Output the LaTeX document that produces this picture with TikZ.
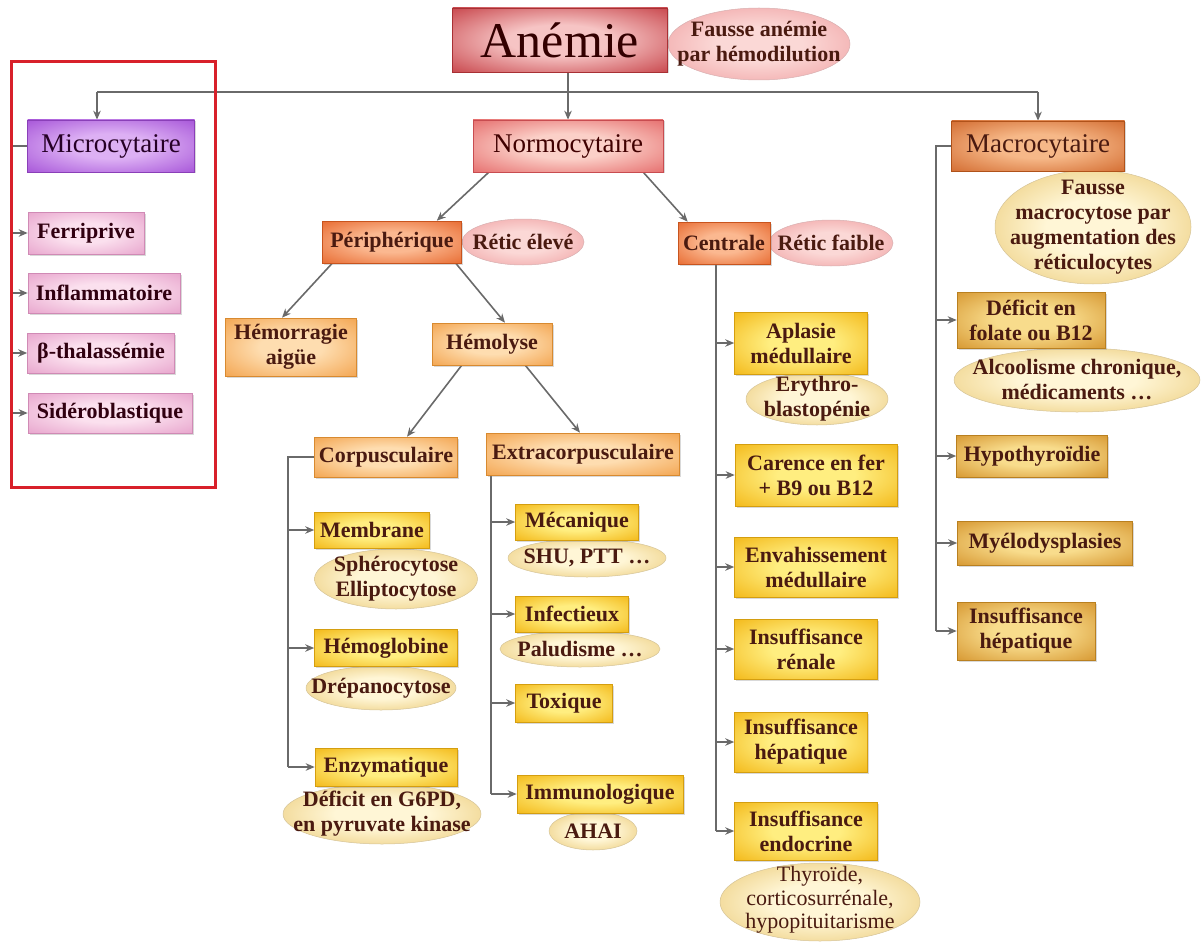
\documentclass[tikz,border=0pt]{standalone}
\usepackage{fontspec}
\setmainfont{Liberation Serif}
\usetikzlibrary{arrows.meta,shapes.geometric,shadows,calc}
\pgfdeclarelayer{bg}\pgfdeclarelayer{ov}
\pgfsetlayers{bg,ov,main}
\definecolor{linec}{HTML}{6A6A6A}
\definecolor{txtc}{HTML}{4A1A10}
\definecolor{redO}{HTML}{C43C42}\definecolor{redI}{HTML}{F6C4C4}\definecolor{redD}{HTML}{A83034}
\definecolor{vioO}{HTML}{A24ED6}\definecolor{vioI}{HTML}{DDB0F4}\definecolor{vioD}{HTML}{8A3FB8}
\definecolor{pnkO}{HTML}{E6A0CA}\definecolor{pnkI}{HTML}{FBE0EE}\definecolor{pnkD}{HTML}{D08AB5}
\definecolor{nrmO}{HTML}{E46666}\definecolor{nrmI}{HTML}{FBD0C8}\definecolor{nrmD}{HTML}{C84C50}
\definecolor{orgO}{HTML}{E6652A}\definecolor{orgI}{HTML}{FBB890}\definecolor{orgD}{HTML}{C8541E}
\definecolor{mcrO}{HTML}{D0662A}\definecolor{mcrI}{HTML}{F6B888}\definecolor{mcrD}{HTML}{B0521A}
\definecolor{lorO}{HTML}{F2A048}\definecolor{lorI}{HTML}{FEDDB0}\definecolor{lorD}{HTML}{D88A30}
\definecolor{yelO}{HTML}{F2B410}\definecolor{yelI}{HTML}{FFEE80}\definecolor{yelD}{HTML}{D49E10}
\definecolor{gldO}{HTML}{D4922A}\definecolor{gldI}{HTML}{F8DC8C}\definecolor{gldD}{HTML}{B98020}
\definecolor{povO}{HTML}{EE9A9C}\definecolor{povI}{HTML}{FBD8D6}
\definecolor{covO}{HTML}{E8C46A}\definecolor{covI}{HTML}{FFF6D6}
\definecolor{frame}{HTML}{D8202A}
\colorlet{shin}{white}\colorlet{shout}{black}
\pgfdeclareradialshading[shin,shout]{glow}{\pgfpoint{0bp}{0bp}}{color(0bp)=(shin); color(12bp)=(shin); color(38bp)=(shout); color(50bp)=(shout)}
\newcommand\fntB{\fontsize{22}{25}\selectfont\bfseries}
\newcommand\fntR{\fontsize{27}{30}\selectfont}
\newcommand\fntT{\fontsize{22}{23.5}\selectfont}
\tikzset{
  con/.style={draw=linec, line width=1.6pt},
  arr/.style={con, -{Stealth[length=9pt,width=7.5pt]}},
  glowfill/.style 2 args={/utils/exec={\colorlet{shin}{#1}\colorlet{shout}{#2}}, shade, shading=glow},
  box/.style={rectangle, inner sep=2pt, align=center, font=\fntB, text=txtc, line width=0.6pt,
    drop shadow={shadow xshift=1.5pt, shadow yshift=-1.5pt, opacity=0.3}},
  rbox/.style={box, draw=redD, glowfill={redI}{redO}, text=black!80!red},
  vbox/.style={box, draw=vioD, glowfill={vioI}{vioO}, text=black!70!violet},
  pbox/.style={box, draw=pnkD, glowfill={pnkI}{pnkO}, text=black!75!purple},
  nbox/.style={box, draw=nrmD, glowfill={nrmI}{nrmO}, text=black!75!red},
  obox/.style={box, draw=orgD, glowfill={orgI}{orgO}},
  mbox/.style={box, draw=mcrD, glowfill={mcrI}{mcrO}},
  lbox/.style={box, draw=lorD, glowfill={lorI}{lorO}},
  ybox/.style={box, draw=yelD, glowfill={yelI}{yelO}},
  gbox/.style={box, draw=gldD, glowfill={gldI}{gldO}},
  poval/.style={ellipse, inner sep=0pt, draw=povO!80!black!60, line width=0.5pt, glowfill={povI}{povO}},
  coval/.style={ellipse, inner sep=0pt, draw=covO!80!black!60, line width=0.5pt, glowfill={covI}{covO}},
  otext/.style={inner sep=0pt, align=center, font=\fntB, text=txtc},
}
\newcommand\ovalnode[7][]{%
  \begin{pgfonlayer}{ov}
  \node[#6, minimum width=#4pt, minimum height=#5pt] (#2) at (#3) {};
  \node[otext,#1] (#2t) at (#2) {#7};
  \end{pgfonlayer}}
\begin{document}
\begin{tikzpicture}[x=1pt,y=-1pt]
\path[use as bounding box] (0,0) rectangle (1201,944);
% top
\node[rbox, minimum width=215pt, minimum height=64pt, font=\fontsize{50}{55}\selectfont] (anemie) at (560,40) {Anémie};
\ovalnode{fausse}{759,44}{182}{72}{poval}{Fausse anémie\\par hémodilution}
% microcytaire
\node[vbox, minimum width=167pt, minimum height=52pt, font=\fntR] (micro) at (111,146) {Microcytaire};
\node[pbox, minimum width=116pt, minimum height=42pt] (ferri) at (86,233) {Ferriprive};
\node[pbox, minimum width=152pt, minimum height=40pt] (infl) at (104,293) {Inflammatoire};
\node[pbox, minimum width=147pt, minimum height=40pt] (beta) at (101,353) {β-thalassémie};
\node[pbox, minimum width=164pt, minimum height=40pt] (sidero) at (110,413) {Sidéroblastique};
\draw[frame, line width=3pt] (11,62) rectangle (215,487);
% normo / macro
\node[nbox, minimum width=190pt, minimum height=52pt, font=\fntR] (normo) at (568,146) {Normocytaire};
\node[mbox, minimum width=173pt, minimum height=50pt, font=\fntR] (macro) at (1038,146) {Macrocytaire};
% peripherique / centrale
\node[obox, minimum width=139pt, minimum height=42pt] (peri) at (392,242) {Périphérique};
\ovalnode{reticE}{523,242}{122}{46}{poval}{Rétic élevé}
\node[obox, minimum width=92pt, minimum height=42pt] (centrale) at (724,243) {Centrale};
\ovalnode{reticF}{831,243}{124}{46}{poval}{Rétic faible}
% hemorragie / hemolyse
\node[lbox, minimum width=131pt, minimum height=58pt] (hemor) at (291,347) {Hémorragie\\aigüe};
\node[lbox, minimum width=120pt, minimum height=42pt] (hemol) at (492,344) {Hémolyse};
\node[lbox, minimum width=143pt, minimum height=40pt] (corp) at (386,457) {Corpusculaire};
\node[lbox, minimum width=193pt, minimum height=42pt] (extra) at (583,454) {Extracorpusculaire};
% corpusculaire children
\node[ybox, minimum width=115pt, minimum height=36pt] (membr) at (372,530) {Membrane};
\ovalnode{sphero}{396,579}{163}{60}{coval}{Sphérocytose\\Elliptocytose}
\node[ybox, minimum width=143pt, minimum height=37pt] (hemog) at (386,648) {Hémoglobine};
\ovalnode{drepa}{381,688}{150}{44}{coval}{Drépanocytose}
\node[ybox, minimum width=142pt, minimum height=38pt] (enzym) at (386,767) {Enzymatique};
\ovalnode{gsixpd}{382,814}{198}{60}{coval}{Déficit en G6PD,\\en pyruvate kinase}
% extracorpusculaire children
\node[ybox, minimum width=123pt, minimum height=36pt] (mecan) at (577,522) {Mécanique};
\ovalnode{shu}{587,558}{158}{38}{coval}{SHU, PTT \ldots}
\node[ybox, minimum width=113pt, minimum height=36pt] (infect) at (572,614) {Infectieux};
\ovalnode{palu}{580,649}{160}{36}{coval}{Paludisme \ldots}
\node[ybox, minimum width=97pt, minimum height=38pt] (toxi) at (564,703) {Toxique};
\node[ybox, minimum width=166pt, minimum height=38pt] (immuno) at (600,794) {Immunologique};
\ovalnode{ahai}{593,831}{88}{38}{coval}{AHAI}
% centrale children
\node[ybox, minimum width=133pt, minimum height=62pt] (aplas) at (801,343) {Aplasie\\médullaire};
\ovalnode{erythro}{817,399}{142}{52}{coval}{Erythro-\\blastopénie}
\node[ybox, minimum width=162pt, minimum height=62pt] (carence) at (816,475) {Carence en fer\\+ B9 ou B12};
\node[ybox, minimum width=163pt, minimum height=60pt] (envahi) at (816,567) {Envahissement\\médullaire};
\node[ybox, minimum width=143pt, minimum height=60pt] (irenale) at (806,649) {Insuffisance\\rénale};
\node[ybox, minimum width=133pt, minimum height=60pt] (ihepc) at (801,742) {Insuffisance\\hépatique};
\node[ybox, minimum width=143pt, minimum height=58pt] (iendo) at (806,831) {Insuffisance\\endocrine};
\ovalnode[font=\fntT, yshift=2pt]{thyro}{820,902}{200}{78}{coval}{Thyroïde,\\corticosurrénale,\\hypopituitarisme}
% macro children
\ovalnode{fmacro}{1093,227}{196}{114}{coval}{Fausse\\macrocytose par\\augmentation des\\réticulocytes}
\node[gbox, minimum width=148pt, minimum height=56pt] (deficit) at (1031,320) {Déficit en\\folate ou B12};
\ovalnode{alcool}{1077,380}{246}{64}{coval}{Alcoolisme chronique,\\médicaments \ldots}
\node[gbox, minimum width=151pt, minimum height=42pt] (hypo) at (1032,456) {Hypothyroïdie};
\node[gbox, minimum width=175pt, minimum height=44pt] (myelo) at (1045,543) {Myélodysplasies};
\node[gbox, minimum width=138pt, minimum height=58pt] (ihepm) at (1026,631) {Insuffisance\\hépatique};
% connectors
\coordinate (busL) at (97,92);
\coordinate (mcol) at (12,0);
\coordinate (ccol) at (288,0);
\coordinate (ecol) at (491,0);
\coordinate (kcol) at (716,0);
\coordinate (xcol) at (936,0);
\begin{pgfonlayer}{bg}
\draw[con] (busL) -- (busL -| macro.north);
\draw[arr] (busL) -- (busL |- micro.north);
\draw[arr] (busL -| macro.north) -- (macro.north);
\draw[arr] (anemie.south -| normo.north) -- (normo.north);
\draw[con] (micro.west) -- (micro.west -| mcol) -- (sidero.west -| mcol);
\foreach \n in {ferri,infl,beta,sidero} \draw[arr] (\n.west -| mcol) -- (\n.west);
\draw[arr] ([xshift=16pt]normo.south west) -- ([xshift=-25pt]peri.north east);
\draw[arr] ([xshift=-20pt]normo.south east) -- ([xshift=10pt]centrale.north west);
\draw[arr] ([xshift=10pt]peri.south west) -- ([xshift=-9pt]hemor.north);
\draw[arr] ([xshift=-6pt]peri.south east) -- ([xshift=13pt]hemol.north);
\draw[arr] ([xshift=30pt]hemol.south west) -- ([xshift=21pt]corp.north);
\draw[arr] ([xshift=-27pt]hemol.south east) -- ([xshift=-3pt]extra.north);
\draw[con] (corp.west) -- (corp.west -| ccol) -- (enzym.west -| ccol);
\foreach \n in {membr,hemog,enzym} \draw[arr] (\n.west -| ccol) -- (\n.west);
\draw[con] (extra.south -| ecol) -- (immuno.west -| ecol);
\foreach \n in {mecan,infect,toxi,immuno} \draw[arr] (\n.west -| ecol) -- (\n.west);
\draw[con] (centrale.south -| kcol) -- (iendo.west -| kcol);
\foreach \n in {aplas,carence,envahi,irenale,ihepc,iendo} \draw[arr] (\n.west -| kcol) -- (\n.west);
\draw[con] (macro.west) -- (macro.west -| xcol) -- (ihepm.west -| xcol);
\foreach \n in {deficit,hypo,myelo,ihepm} \draw[arr] (\n.west -| xcol) -- (\n.west);
\end{pgfonlayer}
\end{tikzpicture}
\end{document}
